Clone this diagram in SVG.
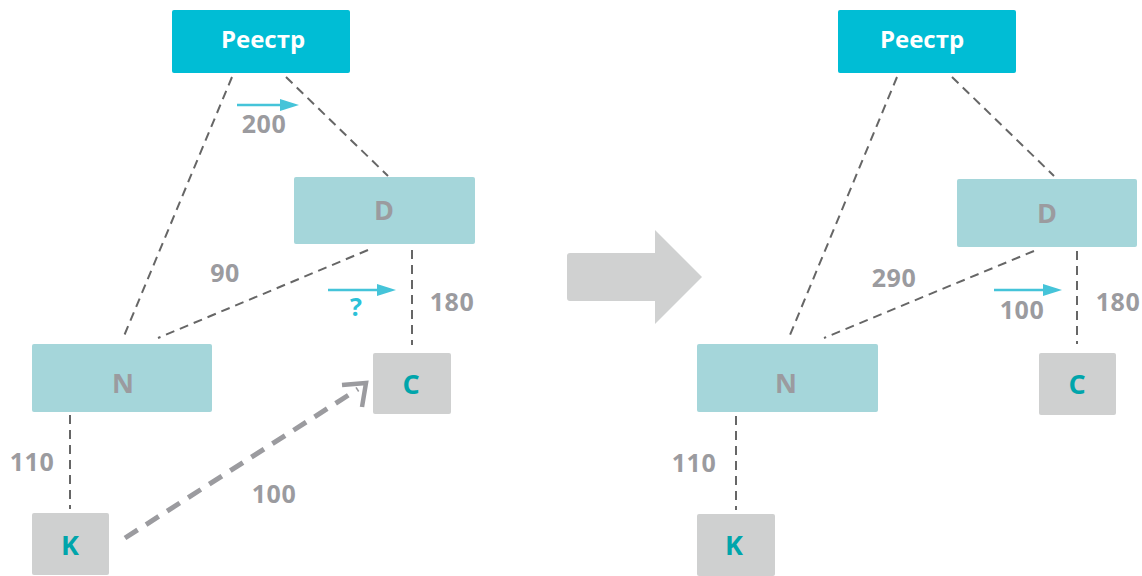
<svg xmlns="http://www.w3.org/2000/svg" width="1142" height="576" viewBox="0 0 1142 576">
<style>
text{font-family:"Open Sans","DejaVu Sans",sans-serif;font-weight:bold;text-anchor:middle;font-size:25px}
.reg{fill:#00bdd5}
.blue{fill:#a5d6da}
.grey{fill:#cfd0d0}
.tw{fill:#ffffff;font-size:24px}
.tg{fill:#9b9b9f;font-size:27px}
.tt{fill:#00a5ab;font-size:27px}
.lbl{fill:#9b9b9f;letter-spacing:0.5px}
.dash{stroke:#666;stroke-width:2;stroke-dasharray:9 6;fill:none}
.flow{stroke:#45c4d9;stroke-width:2.5;fill:none}
</style>

<g id="connectors">
<line class="dash" x1="232" y1="77" x2="124" y2="336"/>
<line class="dash" x1="286" y1="77" x2="388" y2="176"/>
<line class="dash" x1="368" y1="250" x2="158" y2="338"/>
<line class="dash" x1="412" y1="250" x2="412" y2="345"/>
<line class="dash" x1="70" y1="415" x2="70" y2="509"/>
<line x1="125" y1="538" x2="358" y2="389" stroke="#9b9b9f" stroke-width="5" stroke-dasharray="15 10" fill="none"/>
<polyline points="342,385 366,383 362,407" stroke="#9b9b9f" stroke-width="4.5" fill="none"/>
<line class="dash" x1="897" y1="77" x2="790" y2="335"/>
<line class="dash" x1="952" y1="77" x2="1054" y2="176"/>
<line class="dash" x1="1034" y1="251" x2="824" y2="338"/>
<line class="dash" x1="1077" y1="251" x2="1077" y2="344"/>
<line class="dash" x1="736" y1="416" x2="736" y2="510"/>
<line class="flow" x1="237" y1="105" x2="283" y2="105"/>
<path d="M280,99 L299,105 L280,111 z" fill="#45c4d9"/>
<line class="flow" x1="328" y1="290" x2="380" y2="290"/>
<path d="M377,284 L396,290 L377,296 z" fill="#45c4d9"/>
<line class="flow" x1="994" y1="290" x2="1045" y2="290"/>
<path d="M1043,284 L1062,290 L1043,296 z" fill="#45c4d9"/>
</g>

<g id="big-arrow">
<path d="M570,253 L655,253 L655,230 L702,277 L655,324 L655,301 L570,301 Q567,301 567,298 L567,256 Q567,253 570,253 z" fill="#d0d1d1"/>
</g>

<g id="labels">
<text class="lbl" x="264" y="133">200</text>
<text class="lbl" x="225" y="282">90</text>
<text class="lbl" x="452" y="311">180</text>
<text x="356" y="316" fill="#2cc1d8">?</text>
<text class="lbl" x="32" y="471">110</text>
<text class="lbl" x="274" y="503">100</text>
<text class="lbl" x="894" y="287">290</text>
<text class="lbl" x="1022" y="319">100</text>
<text class="lbl" x="1118" y="311">180</text>
<text class="lbl" x="694" y="472">110</text>
</g>

<g id="reestr-left"><rect class="reg" x="172" y="10" width="178" height="63" rx="2"/><text class="tw" x="263" y="48">Реестр</text></g>
<g id="d-left"><rect class="blue" x="294" y="177" width="181" height="67" rx="2"/><text class="tg" x="384" y="220">D</text></g>
<g id="n-left"><rect class="blue" x="32" y="344" width="180" height="68" rx="2"/><text class="tg" x="123" y="393">N</text></g>
<g id="c-left"><rect class="grey" x="373" y="353" width="78" height="61" rx="2"/><text class="tt" x="411" y="394">C</text></g>
<g id="k-left"><rect class="grey" x="32" y="513" width="77" height="62" rx="2"/><text class="tt" x="70" y="555">K</text></g>

<g id="reestr-right"><rect class="reg" x="838" y="10" width="178" height="63" rx="2"/><text class="tw" x="922" y="48">Реестр</text></g>
<g id="d-right"><rect class="blue" x="957" y="179" width="180" height="68" rx="2"/><text class="tg" x="1047" y="223">D</text></g>
<g id="n-right"><rect class="blue" x="697" y="344" width="181" height="68" rx="2"/><text class="tg" x="786" y="393">N</text></g>
<g id="c-right"><rect class="grey" x="1039" y="353" width="77" height="62" rx="2"/><text class="tt" x="1077" y="394">C</text></g>
<g id="k-right"><rect class="grey" x="697" y="514" width="78" height="62" rx="2"/><text class="tt" x="734" y="555">K</text></g>
</svg>
